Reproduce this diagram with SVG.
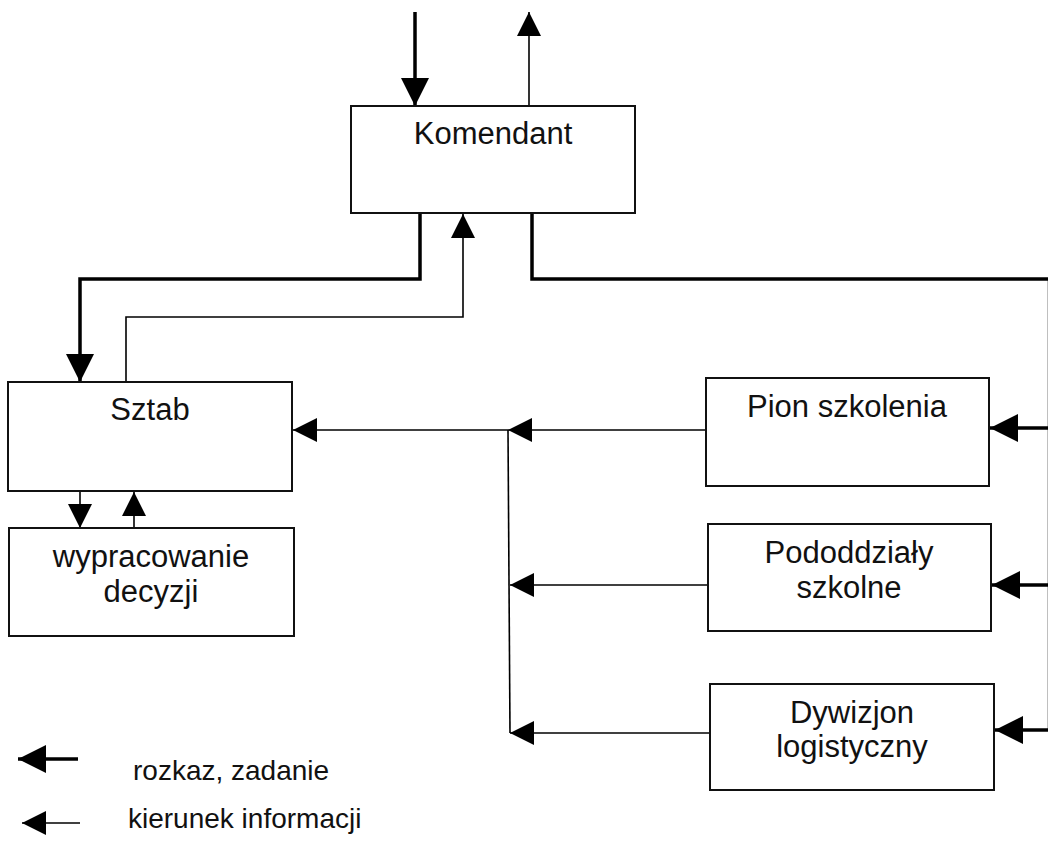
<svg xmlns="http://www.w3.org/2000/svg" width="1048" height="865" viewBox="0 0 1048 865">
<style>
.box{fill:#fff;stroke:#111;stroke-width:2}
.t{font-family:"Liberation Sans",Arial,sans-serif;font-size:31px;fill:#111;text-anchor:middle}
.lt{font-family:"Liberation Sans",Arial,sans-serif;font-size:28px;fill:#111}
.thick{fill:none;stroke:#000;stroke-width:3.5}
.thin{fill:none;stroke:#000;stroke-width:1.6}
</style>
<defs>
<marker id="hb" markerUnits="userSpaceOnUse" markerWidth="28" markerHeight="28" refX="28" refY="14" orient="auto">
<path d="M0,0 L28,14 L0,28 z" fill="#000"/>
</marker>
<marker id="hs" markerUnits="userSpaceOnUse" markerWidth="24" markerHeight="24" refX="24" refY="12" orient="auto">
<path d="M0,0 L24,12 L0,24 z" fill="#000"/>
</marker>
</defs>
<rect width="1048" height="865" fill="#fff"/>
<g id="connectors">
<line class="thick" x1="415" y1="12" x2="415" y2="106" marker-end="url(#hb)"/>
<line class="thin" x1="529" y1="106" x2="529" y2="12" marker-end="url(#hs)"/>
<polyline class="thick" points="420,213 420,279 80,279 80,382" marker-end="url(#hb)"/>
<polyline class="thin" points="126,382 126,317 463,317 463,214" marker-end="url(#hs)"/>
<polyline class="thick" points="532,213 532,279 1049.5,279 1049.5,730"/>
<line class="thick" x1="1049" y1="428" x2="990" y2="428" marker-end="url(#hb)"/>
<line class="thick" x1="1049" y1="585" x2="992" y2="585" marker-end="url(#hb)"/>
<line class="thick" x1="1049" y1="730" x2="995" y2="730" marker-end="url(#hb)"/>
<line class="thin" x1="706" y1="430" x2="508" y2="430" marker-end="url(#hs)"/>
<line class="thin" x1="508" y1="430" x2="293" y2="430" marker-end="url(#hs)"/>
<line class="thin" x1="508" y1="430" x2="510" y2="733"/>
<line class="thin" x1="708" y1="585" x2="510" y2="585" marker-end="url(#hs)"/>
<line class="thin" x1="710" y1="733" x2="510" y2="733" marker-end="url(#hs)"/>
<line class="thin" x1="80" y1="491" x2="80" y2="528" marker-end="url(#hs)"/>
<line class="thin" x1="134" y1="528" x2="134" y2="492" marker-end="url(#hs)"/>
</g>
<g id="komendant"><rect class="box" x="351" y="106" width="284" height="107"/><text class="t" x="493" y="144">Komendant</text></g>
<g id="sztab"><rect class="box" x="8" y="382" width="284" height="109"/><text class="t" x="150" y="420">Sztab</text></g>
<g id="wypracowanie"><rect class="box" x="9" y="528" width="285" height="108"/><text class="t" x="151" y="567">wypracowanie</text><text class="t" x="151" y="602">decyzji</text></g>
<g id="pion"><rect class="box" x="706" y="378" width="283" height="108"/><text class="t" x="847" y="417">Pion szkolenia</text></g>
<g id="pododdzialy"><rect class="box" x="708" y="524" width="283" height="107"/><text class="t" x="849" y="563">Pododdziały</text><text class="t" x="849" y="598">szkolne</text></g>
<g id="dywizjon"><rect class="box" x="710" y="684" width="284" height="106"/><text class="t" x="852" y="723">Dywizjon</text><text class="t" x="852" y="757">logistyczny</text></g>
<g id="legend">
<line class="thick" x1="78" y1="759" x2="18" y2="759" marker-end="url(#hb)"/>
<text class="lt" x="133" y="780">rozkaz, zadanie</text>
<line class="thin" x1="80" y1="823" x2="22" y2="823" marker-end="url(#hs)"/>
<text class="lt" x="128" y="828">kierunek informacji</text>
</g>
</svg>
